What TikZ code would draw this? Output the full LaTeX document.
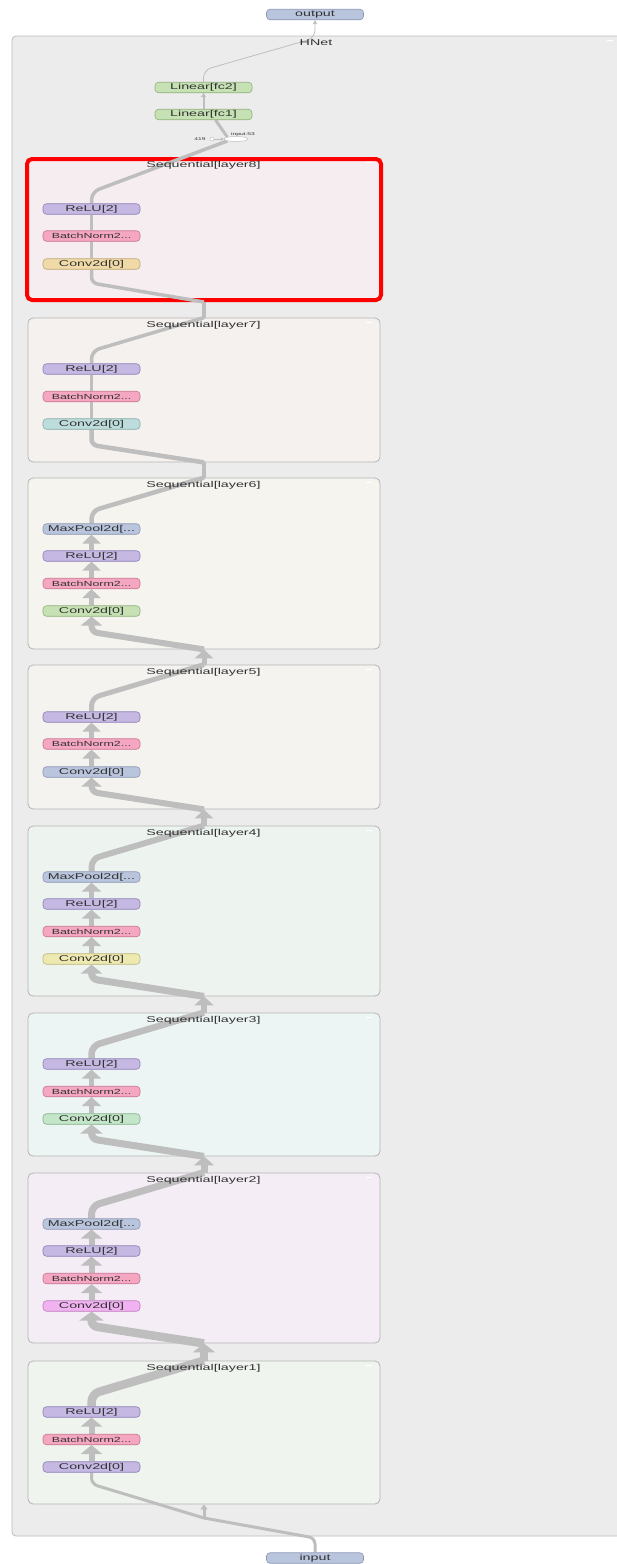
\documentclass[tikz,border=0pt]{standalone}
\usepackage{fontspec}
\newfontfamily\tbf{Liberation Sans}[FakeStretch=1.68]
\usetikzlibrary{arrows.meta,shapes.geometric,calc}
\pgfdeclarelayer{back}
\pgfdeclarelayer{mid}
\pgfsetlayers{back,mid,main}
\definecolor{eg}{HTML}{BEBEBE}
\definecolor{txt}{HTML}{333333}
\definecolor{hnF}{HTML}{ECECEC}
\definecolor{hnD}{HTML}{BDBDBD}
\definecolor{grpD}{HTML}{B4B4B4}
\definecolor{l1F}{HTML}{EFF4EE}
\definecolor{l2F}{HTML}{F4EDF5}
\definecolor{l3F}{HTML}{EDF5F4}
\definecolor{l4F}{HTML}{EDF4EF}
\definecolor{l5F}{HTML}{F5F3EF}
\definecolor{l6F}{HTML}{F5F4EE}
\definecolor{l7F}{HTML}{F5F1EE}
\definecolor{l8F}{HTML}{F6EDF0}
\definecolor{blF}{HTML}{B9C4DD}\definecolor{blD}{HTML}{8C96B4}
\definecolor{grF}{HTML}{C6E2B5}\definecolor{grD}{HTML}{8FB07C}
\definecolor{puF}{HTML}{C5B8E3}\definecolor{puD}{HTML}{8E80B8}
\definecolor{bnF}{HTML}{F5A6C1}\definecolor{bnD}{HTML}{C77592}
\definecolor{tnF}{HTML}{F0DAA8}\definecolor{tnD}{HTML}{C0A870}
\definecolor{tlF}{HTML}{BCDDDC}\definecolor{tlD}{HTML}{86AAA8}
\definecolor{ylF}{HTML}{EEE9B0}\definecolor{ylD}{HTML}{BDB678}
\definecolor{mgF}{HTML}{C3E6C8}\definecolor{mgD}{HTML}{86B08C}
\definecolor{viF}{HTML}{F0B2F0}\definecolor{viD}{HTML}{C07EC0}
\tikzset{
  op/.style={draw, rounded corners=3.5pt, minimum width=97pt, minimum height=10.5pt,
    inner sep=0pt, line width=0.6pt, text=txt, font=\tbf\fontsize{8.5}{9}\selectfont},
  blu/.style={op, fill=blF, draw=blD},
  grn/.style={op, fill=grF, draw=grD},
  relu/.style={op, fill=puF, draw=puD},
  bnorm/.style={op, fill=bnF, draw=bnD, font=\tbf\fontsize{7.4}{8}\selectfont},
  grp/.style={draw=grpD, line width=0.8pt, rounded corners=5pt, minimum width=352pt, inner sep=0pt},
  lbl/.style={text=txt, font=\tbf\fontsize{8.5}{9}\selectfont, inner sep=0pt},
  tinylbl/.style={text=txt, font=\tbf\fontsize{4}{5}\selectfont, inner sep=0pt},
  fl/.style={draw=eg, line width=#1, rounded corners=8pt},
  inl/.style={draw=eg, line width=#1, rounded corners=6pt},
  tp/.style={-{Triangle[width=#1,length=9pt]}},
  wdash/.style={draw=white, line width=0.8pt},
}
\begin{document}
\begin{tikzpicture}[x=1pt,y=-1pt]
\useasboundingbox (0,0) rectangle (616,1564);
\begin{pgfonlayer}{back}
\fill[white] (0,0) rectangle (616,1564);
\node[draw=hnD, fill=hnF, line width=0.8pt, rounded corners=4pt, minimum width=620pt, minimum height=1500pt, inner sep=0pt] (hnet) at (322,786) {};
\draw[wdash] (607,40) -- (613,40);
\node[grp, fill=l1F, minimum height=143pt] (L1) at (204,1432.5) {};
\node[grp, fill=l2F, minimum height=170pt] (L2) at (204,1258) {};
\node[grp, fill=l3F, minimum height=143pt] (L3) at (204,1084.5) {};
\node[grp, fill=l4F, minimum height=170pt] (L4) at (204,911) {};
\node[grp, fill=l5F, minimum height=144pt] (L5) at (204,737) {};
\node[grp, fill=l6F, minimum height=171pt] (L6) at (204,563.5) {};
\node[grp, fill=l7F, minimum height=144pt] (L7) at (204,390) {};
\node[grp, fill=l8F, draw=red, line width=4pt, minimum height=141pt, minimum width=354pt] (L8) at (204,229.5) {};
\foreach \t in {1361,1173,1013,826,665,478,318,158} {\draw[wdash] (366,\t+4) -- (372,\t+4);}
\end{pgfonlayer}
% operation nodes
\node[blu] (out) at (315,14.5) {output};
\node[blu] (in) at (315,1558) {input};
\node[grn] (fc2) at (203.5,87.5) {Linear[fc2]};
\node[grn] (fc1) at (203.5,114.5) {Linear[fc1]};
\node[draw=eg, fill=white, ellipse, minimum width=24pt, minimum height=5pt, inner sep=0pt, line width=0.5pt] (in53) at (236,139) {};
\node[draw=eg, fill=white, circle, minimum size=4pt, inner sep=0pt, line width=0.5pt] (c419) at (212,139) {};
\coordinate (j1) at (204,1518);

\node[relu] (L8r) at (91.5,209) {ReLU[2]};
\node[bnorm] (L8b) at (91.5,236) {BatchNorm2...};
\node[op, fill=tnF, draw=tnD] (L8c) at (91.5,264) {Conv2d[0]};

\node[relu] (L7r) at (91.5,369) {ReLU[2]};
\node[bnorm] (L7b) at (91.5,396.5) {BatchNorm2...};
\node[op, fill=tlF, draw=tlD] (L7c) at (91.5,424) {Conv2d[0]};

\node[blu] (L6m) at (91.5,529) {MaxPool2d[...};
\node[relu] (L6r) at (91.5,556) {ReLU[2]};
\node[bnorm] (L6b) at (91.5,583.5) {BatchNorm2...};
\node[grn] (L6c) at (91.5,611) {Conv2d[0]};

\node[relu] (L5r) at (91.5,717) {ReLU[2]};
\node[bnorm] (L5b) at (91.5,744) {BatchNorm2...};
\node[blu] (L5c) at (91.5,772) {Conv2d[0]};

\node[blu] (L4m) at (91.5,877) {MaxPool2d[...};
\node[relu] (L4r) at (91.5,904) {ReLU[2]};
\node[bnorm] (L4b) at (91.5,931.5) {BatchNorm2...};
\node[op, fill=ylF, draw=ylD] (L4c) at (91.5,959) {Conv2d[0]};

\node[relu] (L3r) at (91.5,1064) {ReLU[2]};
\node[bnorm] (L3b) at (91.5,1091.5) {BatchNorm2...};
\node[op, fill=mgF, draw=mgD] (L3c) at (91.5,1119) {Conv2d[0]};

\node[blu] (L2m) at (91.5,1224) {MaxPool2d[...};
\node[relu] (L2r) at (91.5,1251) {ReLU[2]};
\node[bnorm] (L2b) at (91.5,1278.5) {BatchNorm2...};
\node[op, fill=viF, draw=viD] (L2c) at (91.5,1306) {Conv2d[0]};

\node[relu] (L1r) at (91.5,1412) {ReLU[2]};
\node[bnorm] (L1b) at (91.5,1439.5) {BatchNorm2...};
\node[relu] (L1c) at (91.5,1467) {Conv2d[0]};

% ---------- edges ----------
\begin{pgfonlayer}{mid}
\draw[fl=3pt, rounded corners=6pt] (in.north) -- (315,1538) -- (j1);
\draw[fl=3pt, -{Triangle[width=7pt,length=5pt]}] (j1) -- (L1.south);
\draw[inl=3pt] (j1) -- (91.5,1484) -- (L1c.south);
% L1
\draw[inl=6pt, tp=21pt] (L1c.north) -- (L1b.south);
\draw[inl=6pt, tp=21pt] (L1b.north) -- (L1r.south);
\draw[fl=8.5pt] (L1r.north) -- (91.5,1394) -- (L1.north);
\draw[fl=8pt, tp=22pt] (L1.north) -- (L2.south);
% L2
\draw[inl=8.5pt, tp=24pt] (L2.south) -- (91.5,1326) -- (L2c.south);
\draw[inl=6pt, tp=21pt] (L2c.north) -- (L2b.south);
\draw[inl=6pt, tp=21pt] (L2b.north) -- (L2r.south);
\draw[inl=6pt, tp=21pt] (L2r.north) -- (L2m.south);
\draw[fl=7pt] (L2m.north) -- (91.5,1206) -- (L2.north);
\draw[fl=7pt, tp=20pt] (L2.north) -- (L3.south);
% L3
\draw[inl=7pt, tp=22pt] (L3.south) -- (91.5,1139) -- (L3c.south);
\draw[inl=5.5pt, tp=19pt] (L3c.north) -- (L3b.south);
\draw[inl=5.5pt, tp=19pt] (L3b.north) -- (L3r.south);
\draw[fl=6.5pt] (L3r.north) -- (91.5,1046) -- (L3.north);
\draw[fl=6.5pt, tp=19pt] (L3.north) -- (L4.south);
% L4
\draw[inl=7pt, tp=21pt] (L4.south) -- (91.5,979) -- (L4c.south);
\draw[inl=5.5pt, tp=19pt] (L4c.north) -- (L4b.south);
\draw[inl=5.5pt, tp=19pt] (L4b.north) -- (L4r.south);
\draw[inl=5.5pt, tp=19pt] (L4r.north) -- (L4m.south);
\draw[fl=6pt] (L4m.north) -- (91.5,859) -- (L4.north);
\draw[fl=5.5pt, tp=18pt] (L4.north) -- (L5.south);
% L5
\draw[inl=6pt, tp=20pt] (L5.south) -- (91.5,792) -- (L5c.south);
\draw[inl=5pt, tp=18pt] (L5c.north) -- (L5b.south);
\draw[inl=5pt, tp=18pt] (L5b.north) -- (L5r.south);
\draw[fl=5pt] (L5r.north) -- (91.5,698) -- (L5.north);
\draw[fl=5pt, tp=18pt] (L5.north) -- (L6.south);
% L6
\draw[inl=6pt, tp=21pt] (L6.south) -- (91.5,632) -- (L6c.south);
\draw[inl=5pt, tp=18pt] (L6c.north) -- (L6b.south);
\draw[inl=5pt, tp=18pt] (L6b.north) -- (L6r.south);
\draw[inl=5pt, tp=18pt] (L6r.north) -- (L6m.south);
\draw[fl=4.5pt] (L6m.north) -- (91.5,511) -- (L6.north);
\draw[fl=4.5pt] (L6.north) -- (L7.south);
% L7
\draw[inl=4.5pt] (L7.south) -- (91.5,445) -- (L7c.south);
\draw[inl=3pt] (L7c.north) -- (L7b.south);
\draw[inl=3pt] (L7b.north) -- (L7r.south);
\draw[fl=3.5pt] (L7r.north) -- (91.5,351) -- (L7.north);
\draw[fl=3.5pt] (L7.north) -- (L8.south);
% L8
\draw[inl=3.5pt] (L8.south) -- (91.5,283) -- (L8c.south);
\draw[inl=3pt] (L8c.north) -- (L8b.south);
\draw[inl=3pt] (L8b.north) -- (L8r.south);
\draw[fl=3.5pt] (L8r.north) -- (91.5,192) -- (in53.south west);
% top
\draw[draw=eg, line width=3pt] (in53.north west) -- ($(fc1.south)+(12,0)$);
\draw[draw=eg, line width=0.6pt, -{Triangle[width=3pt,length=3pt]}] (c419) -- (in53);
\draw[draw=eg, line width=2pt, -{Triangle[width=5pt,length=4pt]}] (fc1.north) -- (fc2.south);
\draw[draw=eg, line width=0.8pt, rounded corners=8pt, -{Triangle[width=4pt,length=4pt]}] (fc2.north) -- (203.5,70) -- (315,38) -- (out.south);
\end{pgfonlayer}
% labels
\node[lbl] (hnl) at (316,43) {HNet};
\node[lbl] (t8) at (203.5,165) {Sequential[layer8]};
\node[lbl] (t7) at (203.5,325) {Sequential[layer7]};
\node[lbl] (t6) at (203.5,485) {Sequential[layer6]};
\node[lbl] (t5) at (203.5,672) {Sequential[layer5]};
\node[lbl] (t4) at (203.5,833) {Sequential[layer4]};
\node[lbl] (t3) at (203.5,1020) {Sequential[layer3]};
\node[lbl] (t2) at (203.5,1180) {Sequential[layer2]};
\node[lbl] (t1) at (203.5,1368) {Sequential[layer1]};
\node[tinylbl] (in53l) at (243,134) {input.53};
\node[tinylbl] (n419) at (200,139) {419};
\end{tikzpicture}
\end{document}
